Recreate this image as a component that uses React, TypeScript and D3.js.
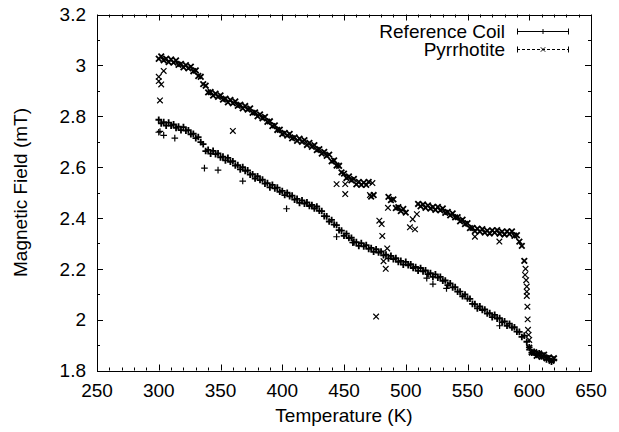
import React, { useEffect, useRef } from 'react'
import * as d3 from 'd3'

// temperature grid (K) shared by both series
const temps = [
  300, 302, 304, 306, 308, 310, 312, 314, 316, 318, 320, 322, 324, 326, 328, 330, 332, 334, 336, 338,
  340, 342, 344, 346, 348, 350, 352, 354, 356, 358, 360, 362, 364, 366, 368, 370, 372, 374, 376, 378,
  380, 382, 384, 386, 388, 390, 392, 394, 396, 398, 400, 402, 404, 406, 408, 410, 412, 414, 416, 418,
  420, 422, 424, 426, 428, 430, 432, 434, 436, 438, 440, 442, 444, 446, 448, 450, 452, 454, 456, 458,
  460, 462, 464, 466, 468, 470, 472, 474, 476, 478, 480, 482, 484, 486, 488, 490, 492, 494, 496, 498,
  500, 502, 504, 506, 508, 510, 512, 514, 516, 518, 520, 522, 524, 526, 528, 530, 532, 534, 536, 538,
  540, 542, 544, 546, 548, 550, 552, 554, 556, 558, 560, 562, 564, 566, 568, 570, 572, 574, 576, 578,
  580, 582, 584, 586, 588, 590, 592, 594, 596, 598, 600, 602, 604, 606, 608, 610, 612, 614, 616, 618,
  620,
]

// Reference Coil (mT)
const refCoil = [
  2.786, 2.772, 2.777, 2.763, 2.775, 2.763, 2.768, 2.754, 2.759, 2.745, 2.757, 2.743, 2.745, 2.729, 2.731, 2.714, 2.718, 2.698, 2.690, 2.663,
  2.668, 2.653, 2.664, 2.651, 2.654, 2.638, 2.641, 2.626, 2.636, 2.621, 2.623, 2.606, 2.608, 2.591, 2.600, 2.585, 2.587, 2.570, 2.572, 2.555,
  2.564, 2.549, 2.551, 2.535, 2.537, 2.520, 2.530, 2.516, 2.519, 2.503, 2.506, 2.490, 2.499, 2.485, 2.488, 2.472, 2.475, 2.459, 2.469, 2.456,
  2.461, 2.447, 2.451, 2.437, 2.445, 2.428, 2.427, 2.407, 2.406, 2.386, 2.392, 2.374, 2.372, 2.352, 2.350, 2.330, 2.338, 2.321, 2.322, 2.304,
  2.305, 2.290, 2.301, 2.288, 2.293, 2.278, 2.282, 2.267, 2.277, 2.264, 2.268, 2.253, 2.256, 2.241, 2.251, 2.238, 2.242, 2.227, 2.231, 2.216,
  2.227, 2.214, 2.218, 2.203, 2.207, 2.192, 2.203, 2.190, 2.194, 2.179, 2.183, 2.168, 2.178, 2.165, 2.168, 2.153, 2.154, 2.136, 2.143, 2.127,
  2.128, 2.110, 2.110, 2.092, 2.099, 2.083, 2.082, 2.062, 2.061, 2.044, 2.052, 2.038, 2.040, 2.024, 2.026, 2.010, 2.019, 2.004, 2.006, 1.990,
  1.993, 1.976, 1.984, 1.969, 1.970, 1.953, 1.952, 1.932, 1.937, 1.913, 1.891, 1.870, 1.874, 1.861, 1.868, 1.855, 1.859, 1.843, 1.847, 1.835,
  1.843,
]

// Pyrrhotite (mT), null where no reading sits on the main band
const pyrrhotite = [
  3.026, 3.035, 3.020, 3.026, 3.013, 3.023, 3.011, 3.019, 3.002, 3.006, 2.992, 3.001, 2.988, 2.995, 2.977, 2.980, 2.958, 2.955, 2.926, 2.920,
  2.894, 2.895, 2.881, 2.889, 2.876, 2.882, 2.865, 2.869, 2.855, 2.864, 2.851, 2.858, 2.841, 2.845, 2.831, 2.840, 2.826, 2.831, 2.813, 2.815,
  2.800, 2.807, 2.792, 2.797, 2.778, 2.780, 2.761, 2.764, 2.746, 2.747, 2.730, 2.734, 2.724, 2.730, 2.713, 2.717, 2.703, 2.712, 2.699, 2.706,
  2.687, 2.695, 2.680, 2.686, 2.667, 2.670, 2.653, 2.660, 2.644, 2.649, 2.623, 2.626, 2.606, 2.605, 2.579, 2.574, 2.557, 2.563, 2.548, 2.553,
  2.532, 2.542, 2.530, 2.539, 2.530, 2.542, 2.484, 2.490, null, null, null, null, null, 2.483, 2.470, 2.473, 2.439, 2.442, 2.427, 2.435,
  2.421, null, null, null, null, 2.455, 2.446, 2.453, 2.440, 2.449, 2.437, 2.443, 2.432, 2.443, 2.430, 2.437, 2.420, 2.424, 2.410, 2.418,
  2.402, 2.403, 2.387, 2.393, 2.376, 2.379, 2.360, 2.361, 2.348, 2.358, 2.346, 2.356, 2.342, 2.350, 2.339, 2.351, 2.342, 2.352, 2.338, 2.346,
  2.335, 2.347, 2.337, 2.347, 2.330, 2.332, 2.307, 2.290, 2.231, null, 1.890, 1.871, 1.872, 1.858, 1.867, 1.854, 1.862, 1.848, 1.851, 1.838,
  1.848,
]

// scattered readings off the main bands
const refOutT = [300, 301, 304, 313, 337, 348, 368, 403.5, 444, 457, 517, 522, 533, 576]
const refOutB = [2.737, 2.740, 2.725, 2.714, 2.596, 2.588, 2.545, 2.436, 2.326, 2.303, 2.163, 2.140, 2.123, 1.976]

const pyrOutT = [300, 300, 301, 302, 304, 360, 444, 451, 451, 473, 471, 478.6, 480.5, 481, 485, 482, 483.8, 476, 485.6,
  503.4, 507.5, 505.6, 509, 556, 575.8, 597, 596.6, 597.5, 598, 598, 598, 598.5, 598.7, 599, 599.5, 600]
const pyrOutB = [2.955, 2.938, 2.862, 2.925, 2.978, 2.742, 2.533, 2.533, 2.494, 2.537, 2.490, 2.389, 2.376, 2.329, 2.280, 2.230, 2.200, 2.012, 2.440,
  2.363, 2.355, 2.395, 2.415, 2.326, 2.307, 2.200, 2.176, 2.155, 2.130, 2.110, 2.093, 2.051, 2.001, 1.960, 1.940, 1.920]

const xTicks = [250, 300, 350, 400, 450, 500, 550, 600, 650]
const yTicks = [1.8, 2, 2.2, 2.4, 2.6, 2.8, 3, 3.2]
const seriesNames = ['Reference Coil', 'Pyrrhotite']

const FONT = 'Liberation Sans, Arial, Helvetica, sans-serif'

function Chart() {
  const svgRef = useRef<SVGSVGElement>(null)
  const width = 619
  const height = 432
  const margin = { top: 14.5, right: 28, bottom: 61.5, left: 97 }

  useEffect(() => {
    const svg = d3.select(svgRef.current)
    svg.selectAll('*').remove()

    const x = d3.scaleLinear().domain([250, 650]).range([margin.left, width - margin.right])
    const y = d3.scaleLinear().domain([1.8, 3.2]).range([height - margin.bottom, margin.top])
    const [x0, x1] = x.range()
    const [y0, y1] = y.range()

    const plus = (g: any, cx: number, cy: number, r = 3.3) =>
      g.append('path').attr('d', `M${cx - r},${cy}H${cx + r}M${cx},${cy - r}V${cy + r}`)
    const cross = (g: any, cx: number, cy: number, r = 2.8) =>
      g.append('path').attr('d', `M${cx - r},${cy - r}L${cx + r},${cy + r}M${cx - r},${cy + r}L${cx + r},${cy - r}`)

    // ticks (inward, mirrored on top and right)
    const ticks = svg.append('g').attr('stroke', '#000').attr('stroke-width', 1)
    d3.range(250, 651, 10).forEach(v => {
      const major = xTicks.includes(v)
      const len = major ? 6 : 3
      const px = Math.round(x(v)) + 0.5
      ticks.append('line').attr('x1', px).attr('x2', px).attr('y1', y0).attr('y2', y0 - len)
      ticks.append('line').attr('x1', px).attr('x2', px).attr('y1', y1).attr('y2', y1 + len)
    })
    d3.range(18, 33, 1).map(v => v / 10).forEach(v => {
      const major = Math.round(v * 10) % 2 === 0
      const len = major ? 6 : 3
      const py = Math.round(y(v)) + 0.5
      ticks.append('line').attr('x1', x0).attr('x2', x0 + len).attr('y1', py).attr('y2', py)
      ticks.append('line').attr('x1', x1).attr('x2', x1 - len).attr('y1', py).attr('y2', py)
    })

    // frame
    svg.append('rect')
      .attr('x', Math.round(x0) + 0.5).attr('y', Math.round(y1) + 0.5)
      .attr('width', Math.round(x1 - x0)).attr('height', Math.round(y0 - y1))
      .attr('fill', 'none').attr('stroke', '#000').attr('stroke-width', 1)

    // tick labels
    const labels = svg.append('g').attr('font-family', FONT).attr('font-size', 19).attr('fill', '#000')
    xTicks.forEach(v => {
      labels.append('text').attr('x', x(v)).attr('y', 397).attr('text-anchor', 'middle').text(String(v))
    })
    yTicks.forEach(v => {
      labels.append('text').attr('x', 86).attr('y', y(v)).attr('dy', '0.36em')
        .attr('text-anchor', 'end').text(String(v))
    })

    // axis titles
    labels.append('text').attr('x', (x0 + x1) / 2).attr('y', 422).attr('text-anchor', 'middle')
      .text('Temperature (K)')
    labels.append('text').attr('transform', `translate(27,${(y0 + y1) / 2}) rotate(-90)`)
      .attr('text-anchor', 'middle').text('Magnetic Field (mT)')

    // data: dense main bands drawn a bit heavier than the lone scattered readings
    const band = svg.append('g').attr('stroke', '#000').attr('stroke-width', 1.8).attr('fill', 'none')
    const loose = svg.append('g').attr('stroke', '#000').attr('stroke-width', 1.2).attr('fill', 'none')
    temps.forEach((t, i) => {
      if (refCoil[i] != null) plus(band, x(t), y(refCoil[i]))
    })
    refOutT.forEach((t, i) => plus(loose, x(t), y(refOutB[i])))
    temps.forEach((t, i) => {
      const v = pyrrhotite[i]
      if (v != null) cross(band, x(t), y(v))
    })
    pyrOutT.forEach((t, i) => cross(loose, x(t), y(pyrOutB[i])))

    // legend
    const leg = svg.append('g').attr('font-family', FONT).attr('font-size', 19)
    const rows = [31, 49]
    seriesNames.forEach((name, i) => {
      const ly = rows[i] + 0.5
      leg.append('text').attr('x', 505).attr('y', ly).attr('dy', '0.36em')
        .attr('text-anchor', 'end').attr('fill', '#000').text(name)
      const lg = leg.append('g').attr('stroke', '#000').attr('stroke-width', 1).attr('fill', 'none')
      lg.append('line').attr('x1', 517).attr('x2', 569).attr('y1', ly).attr('y2', ly)
        .attr('stroke-dasharray', i === 1 ? '3,2' : null)
      lg.append('line').attr('x1', 517.5).attr('x2', 517.5).attr('y1', ly - 3).attr('y2', ly + 3)
      lg.append('line').attr('x1', 568.5).attr('x2', 568.5).attr('y1', ly - 3).attr('y2', ly + 3)
      if (i === 0) plus(lg, 543, ly, 2.5)
      else cross(lg, 543, ly, 2.2)
    })
  }, [])

  return (
    <svg ref={svgRef} width={width} height={height}
      style={{ position: 'absolute', left: 0, top: 0, background: '#fff' }} />
  )
}

export default function App() {
  return <Chart />
}
